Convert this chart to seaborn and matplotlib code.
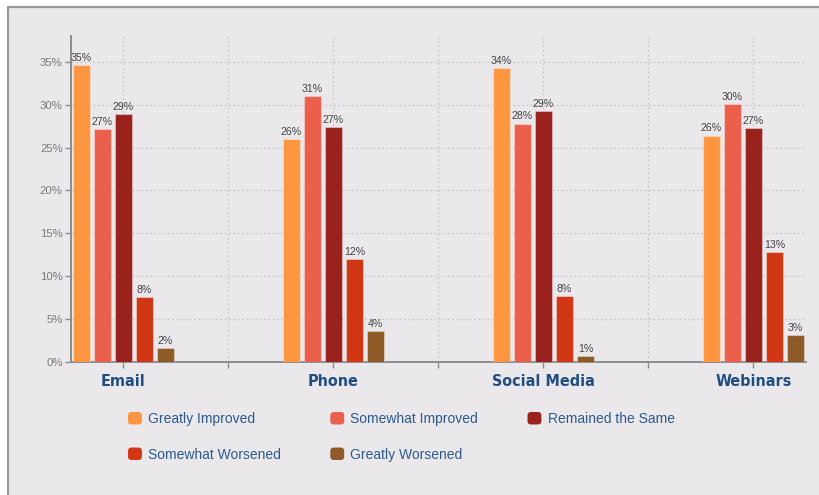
import matplotlib
matplotlib.use("Agg")
import matplotlib.pyplot as plt
from matplotlib.patches import Patch, FancyBboxPatch, Rectangle
from matplotlib.legend_handler import HandlerPatch
from matplotlib.lines import Line2D
from matplotlib.ticker import FuncFormatter, MultipleLocator, FixedLocator
import numpy as np
import pandas as pd
import seaborn as sns

# Share of respondents per channel and change in engagement (%)
channels = ["Email", "Phone", "Social Media", "Webinars"]
responses = ["Greatly Improved", "Somewhat Improved", "Remained the Same",
             "Somewhat Worsened", "Greatly Worsened"]
greatly_improved = [34.6, 26.0, 34.3, 26.4]
somewhat_improved = [27.2, 31.0, 27.8, 30.1]
remained_same = [28.9, 27.4, 29.3, 27.3]
somewhat_worsened = [7.6, 12.0, 7.7, 12.8]
greatly_worsened = [1.6, 3.6, 0.7, 3.1]
colors = ["#FD9640", "#EB5F4D", "#99221D", "#D13715", "#8E5A27"]

series = [greatly_improved, somewhat_improved, remained_same,
          somewhat_worsened, greatly_worsened]
df = pd.DataFrame(
    [(ch, resp, vals[i]) for resp, vals in zip(responses, series)
     for i, ch in enumerate(channels)],
    columns=["channel", "response", "pct"],
)

sns.set_theme(style="white")
plt.rcParams["font.family"] = ["Liberation Sans", "DejaVu Sans"]

BG = "#EAE8EB"
fig = plt.figure(figsize=(8.2, 4.95), dpi=100)
fig.patch.set_facecolor("white")
fig.patch.set_linewidth(0)
# panel background with a grey frame on the top and left
x0, y1 = 8 / 820, 1 - 7 / 495
fig.patches.append(Rectangle((x0, -0.05), 1.1, y1 + 0.05, transform=fig.transFigure,
                             facecolor=BG, edgecolor="none", linewidth=0, zorder=-10))
fig.lines.append(Line2D([x0, x0, 1.05], [-0.05, y1, y1], transform=fig.transFigure,
                        color="#9a9a9a", lw=1.6))

ax = fig.add_axes([71 / 820, 1 - 362 / 495, (806 - 71) / 820, (362 - 36) / 495])
ax.set_facecolor(BG)

sns.barplot(data=df, x="channel", y="pct", hue="response", hue_order=responses,
            order=channels, palette=colors, saturation=1, width=0.5, gap=0.19,
            ax=ax, legend=False, edgecolor=(1, 1, 1, 0.35), linewidth=0.8, zorder=3)

for cont in ax.containers:
    ax.bar_label(cont, fmt="{:.0f}%", padding=1.5, fontsize=7.6, color="#444444")

ax.set_xlim(-0.25, 3.25)
ax.set_ylim(0, 38)
ax.yaxis.set_major_locator(MultipleLocator(5))
ax.yaxis.set_major_formatter(FuncFormatter(lambda v, p: f"{v:.0f}%"))
ax.xaxis.set_minor_locator(FixedLocator([0.5, 1.5, 2.5]))

grid_kw = dict(color="#c9c7ca", linestyle=(0, (1.5, 2)), linewidth=0.9)
for y in range(5, 36, 5):
    ax.axhline(y, zorder=1, **grid_kw)
for x in np.arange(0, 3.01, 0.5):
    ax.axvline(x, zorder=1, **grid_kw)

for s in ["top", "right"]:
    ax.spines[s].set_visible(False)
for s in ["left", "bottom"]:
    ax.spines[s].set_color("#8c8c8c")
    ax.spines[s].set_linewidth(1.4)

ax.tick_params(axis="y", which="major", length=4, width=1, color="#8c8c8c",
               labelsize=8.2, labelcolor="#7a7a7a", pad=2, left=True)
ax.tick_params(axis="x", which="both", length=4, width=1, color="#8c8c8c",
               bottom=True, direction="out")
ax.tick_params(axis="x", which="major", pad=5)
ax.set_xticks(range(len(channels)))
ax.set_xticklabels(channels, family=["DejaVu Sans"], fontstretch="condensed",
                   fontweight="bold", fontsize=11.5, color="#1F4E83")
ax.set_xlabel("")
ax.set_ylabel("")


def rounded_square(legend, orig_handle, xdescent, ydescent, width, height, fontsize):
    return FancyBboxPatch((-xdescent, -ydescent), width, height,
                          boxstyle="round,pad=0,rounding_size=2.5")


order_idx = [0, 3, 1, 4, 2]
handles = [Patch(facecolor=colors[i], edgecolor="none") for i in order_idx]
labels = [responses[i] for i in order_idx]
fig.legend(handles, labels, ncol=3, loc="upper left",
           bbox_to_anchor=(128 / 820, 1 - 412 / 495), frameon=False,
           fontsize=10, labelcolor="#2A5B8E", handlelength=1.0, handleheight=1.0,
           handletextpad=0.45, columnspacing=3.55, labelspacing=1.55, borderpad=0,
           borderaxespad=0,
           handler_map={Patch: HandlerPatch(patch_func=rounded_square)})

fig.savefig("out.png", dpi=100, facecolor=fig.get_facecolor())
